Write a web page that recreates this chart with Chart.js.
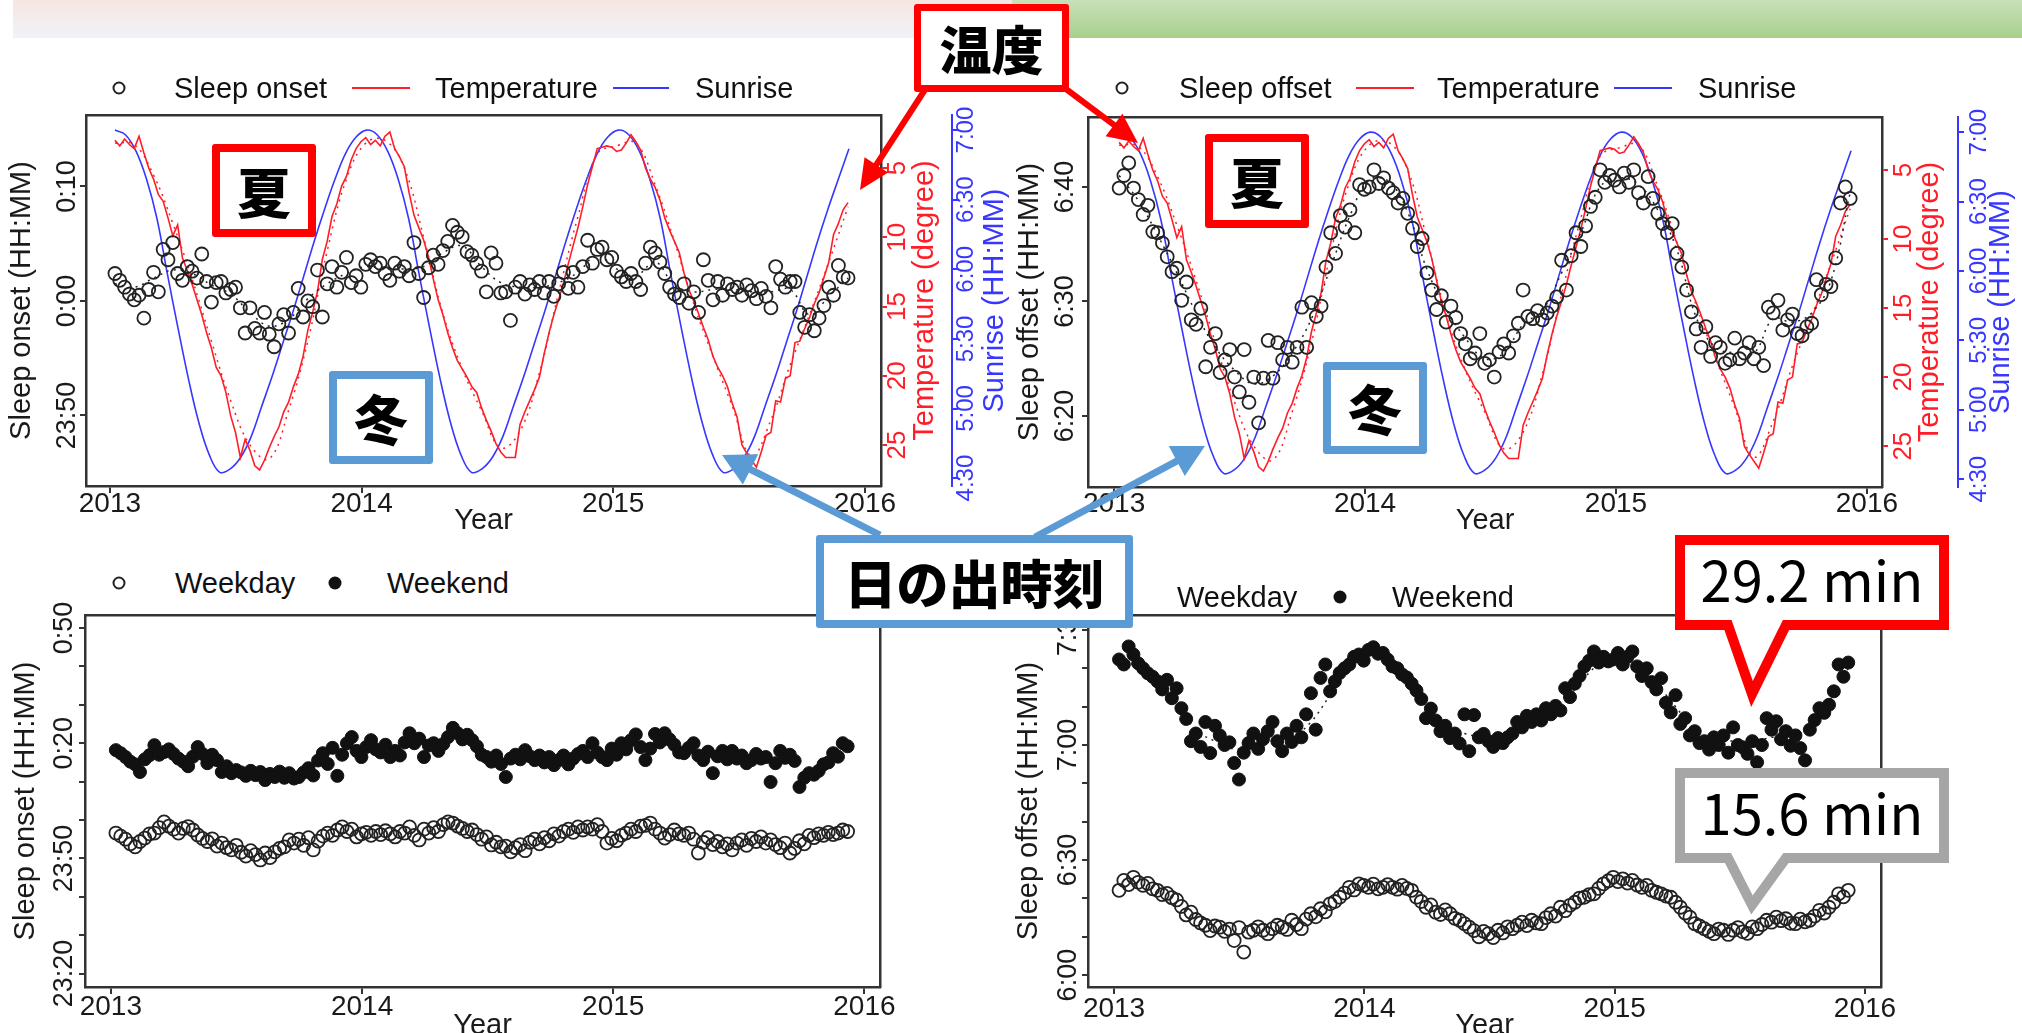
<!DOCTYPE html>
<html lang="ja">
<head>
<meta charset="UTF-8">
<title>Sleep onset / offset, temperature and sunrise</title>
<script src="https://cdn.jsdelivr.net/npm/chart.js"></script>
<style>
  body { margin: 0; width: 2022px; height: 1033px; overflow: hidden; background: #fff; position: relative;
         font-family: "Liberation Sans", Arial, sans-serif; }
  canvas { position: absolute; }
  .band { position: absolute; top: 0; height: 38px; }
  .lg { position: absolute; font-size: 29px; line-height: 1; color: #111; white-space: nowrap; transform: translateY(-50%); }
  .dot { position: absolute; width: 13px; height: 13px; box-sizing: border-box; border-radius: 50%; transform: translate(-50%, -50%); }
  .dot.open { border: 2px solid #222; }
  .dot.fill { background: #111; }
  .seg { position: absolute; height: 2px; transform: translateY(-50%); }
  .tag { position: absolute; box-sizing: border-box; background: #fff; border-radius: 3px;
         display: flex; align-items: center; justify-content: center;
         font-family: "Noto Sans CJK JP", sans-serif; font-weight: 900; color: #000; line-height: 1; }
  .tag.r { border: 8px solid #ff0000; }
  .tag.b { border: 8px solid #5b9bd5; }
  #ann { position: absolute; left: 0; top: 0; }
</style>
</head>
<body>

<div class="band" style="left:13px;width:999px;background:linear-gradient(#f6e6e2,#f1f2f8)"></div>
<div class="band" style="left:1012px;width:1010px;background:linear-gradient(#c8e1b9,#a8d08c)"></div>

<canvas id="cTL" width="1011" height="434" style="left:0;top:100px"></canvas>
<canvas id="cTR" width="1011" height="434" style="left:1011px;top:100px"></canvas>
<canvas id="cBL" width="1000" height="440" style="left:0;top:600px"></canvas>
<canvas id="cBR" width="1000" height="440" style="left:1011px;top:600px"></canvas>

<!-- legends -->
<span class="dot open" style="left:119px;top:88px"></span>
<div class="lg" style="left:174px;top:88px">Sleep onset</div>
<span class="seg" style="left:352px;top:88px;width:58px;background:rgb(255,30,40)"></span>
<div class="lg" style="left:435px;top:88px">Temperature</div>
<span class="seg" style="left:613px;top:88px;width:56px;background:rgb(55,55,255)"></span>
<div class="lg" style="left:695px;top:88px">Sunrise</div>

<span class="dot open" style="left:1122px;top:88px"></span>
<div class="lg" style="left:1179px;top:88px">Sleep offset</div>
<span class="seg" style="left:1356px;top:88px;width:58px;background:rgb(255,30,40)"></span>
<div class="lg" style="left:1437px;top:88px">Temperature</div>
<span class="seg" style="left:1614px;top:88px;width:58px;background:rgb(55,55,255)"></span>
<div class="lg" style="left:1698px;top:88px">Sunrise</div>

<span class="dot open" style="left:119px;top:583px"></span>
<div class="lg" style="left:175px;top:583px">Weekday</div>
<span class="dot fill" style="left:335px;top:583px"></span>
<div class="lg" style="left:387px;top:583px">Weekend</div>

<span class="dot open" style="left:1121px;top:597px"></span>
<div class="lg" style="left:1177px;top:597px">Weekday</div>
<span class="dot fill" style="left:1340px;top:597px"></span>
<div class="lg" style="left:1392px;top:597px">Weekend</div>

<svg id="ann" width="2022" height="1033">
  <path d="M1680,540 H1944 V625 H1786 L1752,694 L1728,625 H1680 Z" fill="#fff" stroke="#ff0000" stroke-width="10" stroke-linejoin="miter"/>
  <text x="1812" y="602" text-anchor="middle" font-family="Noto Sans CJK JP, sans-serif" font-size="56" fill="#000">29.2 min</text>
  <path d="M1680,773 H1944 V858 H1786 L1752,905 L1728,858 H1680 Z" fill="#fff" stroke="#a6a6a6" stroke-width="10" stroke-linejoin="miter"/>
  <text x="1812" y="835" text-anchor="middle" font-family="Noto Sans CJK JP, sans-serif" font-size="56" fill="#000">15.6 min</text>
</svg>

<div class="tag r" style="left:914px;top:4px;width:155px;height:88px;font-size:52px;border-width:7px">温度</div>
<div class="tag r" style="left:212px;top:144px;width:104px;height:93px;font-size:54px">夏</div>
<div class="tag r" style="left:1205px;top:134px;width:104px;height:94px;font-size:54px">夏</div>
<div class="tag b" style="left:329px;top:371px;width:104px;height:93px;font-size:54px">冬</div>
<div class="tag b" style="left:1323px;top:362px;width:104px;height:92px;font-size:54px">冬</div>
<div class="tag b" style="left:816px;top:535px;width:317px;height:93px;font-size:52px">日の出時刻</div>

<script>
// ---- data (weekly means, Jan 2013 - Dec 2015) ----
const yearTicks = [2013, 2014, 2015, 2016];
const firstWeek = 2013.02, weekStep = 7 / 365.25;

// sleep onset, minutes after midnight (top-left)
const onset = [2.4,1.8,1.2,0.6,0.1,0.5,-1.5,1.0,2.5,0.8,4.5,3.6,5.1,2.4,1.8,3.0,2.6,2.0,4.1,1.7,
  -0.1,1.6,1.7,0.7,1.0,1.2,-0.6,-2.8,-0.6,-2.4,-2.8,-1.0,-2.9,-4.0,-2.0,-1.2,-2.8,-1.0,1.1,-1.4,
  0.0,-0.5,2.7,-1.4,1.5,3.0,1.2,2.5,3.8,1.6,2.2,1.2,3.2,3.6,3.0,3.3,2.4,1.8,3.3,2.6,
  3.0,2.2,5.1,2.4,0.3,2.9,4.0,3.2,4.4,5.2,6.6,6.0,5.6,4.3,4.0,3.3,2.6,0.8,4.2,3.3,
  0.7,0.8,-1.7,1.2,1.7,0.6,1.4,1.0,1.7,0.7,1.7,0.4,1.5,2.5,1.1,2.5,1.2,3.0,5.3,3.3,
  4.5,4.7,3.6,3.8,2.6,2.1,1.7,2.4,1.7,1.0,3.3,4.7,4.2,3.4,2.4,1.2,0.6,0.3,1.5,-0.2,
  0.8,-1.0,3.6,1.8,0.1,1.7,0.5,1.5,1.0,1.2,0.5,1.4,0.9,0.2,1.1,0.4,-0.6,3.0,1.9,1.2,
  1.7,1.7,-1.0,-2.3,-1.2,-2.6,-1.5,-0.4,1.2,0.5,3.1,2.1,2.0];
// smoothed onset, every 4 weeks
const onsetFit = [1.5,1.2,2.0,2.7,2.4,1.4,0.6,-1.0,-2.2,-1.6,0.2,1.5,2.4,3.0,2.8,2.8,3.0,4.2,4.8,3.0,
  1.6,1.2,1.2,1.6,2.5,4.0,2.8,2.2,3.4,1.4,0.8,1.0,1.0,0.8,0.8,1.0,-1.2,0.4,2.0];

// sleep offset, minutes after midnight (top-right)
const offset = [399.9,401.0,402.1,399.9,398.9,397.6,398.4,396.1,396.0,395.1,393.9,392.6,392.9,390.1,391.7,388.4,388.0,389.4,384.3,386.0,
  387.2,383.8,384.9,385.8,383.4,382.1,385.8,381.2,383.4,379.4,383.3,386.6,383.3,386.4,384.9,386.0,384.7,386.0,389.5,386.0,
  389.9,388.7,389.6,393.0,396.0,394.2,397.5,396.5,398.0,396.0,400.2,399.8,400.0,401.5,400.3,400.8,399.9,399.5,398.6,399.0,
  397.7,396.4,394.8,395.5,392.5,391.0,389.3,390.5,388.2,389.6,388.6,387.2,386.3,385.0,385.5,387.2,384.6,384.9,383.4,385.6,
  386.3,385.5,387.0,388.1,391.0,388.7,388.5,389.2,388.4,389.0,389.6,390.4,393.6,391.0,394.0,396.0,394.8,396.6,398.3,399.1,
  401.5,400.4,401.0,400.6,400.0,401.2,400.4,401.5,399.5,398.6,400.9,399.0,397.7,396.8,396.0,396.8,394.2,393.0,391.0,389.1,
  387.6,386.0,387.8,385.2,386.4,386.0,384.6,384.9,386.8,385.0,385.5,386.4,385.0,386.0,384.4,389.5,389.0,390.1,387.5,388.4,
  388.9,387.2,387.0,387.8,388.1,391.9,390.6,391.5,391.3,393.8,398.6,400.0,399.0];
const offsetFit = [401.0,398.8,395.8,392.5,389.0,386.0,384.0,382.8,383.5,385.5,388.5,393.0,397.5,400.6,400.5,397.8,392.8,389.3,386.8,385.0,
  385.5,388.0,389.2,392.5,396.0,400.0,400.8,400.2,398.0,394.5,388.6,386.0,385.5,385.5,388.5,388.2,389.0,391.8,399.5];

// weekly mean temperature (degree C)
const temp = [3.0,3.4,2.9,3.3,3.6,2.7,3.9,5.0,5.8,6.9,7.4,8.6,9.9,9.1,11.5,12.4,13.4,14.5,15.6,16.9,
  18.0,19.4,20.0,21.2,22.9,24.1,25.9,24.6,25.4,26.5,26.8,26.1,25.2,24.4,23.7,22.6,21.9,20.8,19.9,18.6,
  16.7,15.4,13.9,11.6,10.3,8.5,7.6,6.3,5.6,4.4,3.6,3.1,2.8,3.3,3.0,3.4,2.7,2.4,3.6,4.2,
  4.9,6.8,8.4,9.3,10.2,11.4,13.0,14.5,15.6,16.9,18.0,18.9,19.5,20.1,20.8,21.2,22.3,23.2,24.0,24.9,
  25.5,25.9,25.9,25.9,23.5,22.6,21.8,21.0,20.1,18.4,16.9,15.6,14.5,13.3,11.9,10.6,9.3,7.8,6.2,4.9,
  3.6,3.5,3.4,3.5,3.8,3.7,3.2,2.6,3.1,3.7,5.0,5.8,6.4,7.3,8.6,9.5,10.3,11.1,12.6,13.8,
  14.6,15.5,16.5,17.4,18.6,19.4,20.0,20.8,22.0,23.0,25.0,25.6,26.1,26.6,25.5,24.3,24.1,21.8,21.9,20.2,
  20.0,17.6,17.5,16.6,15.8,14.8,14.0,12.9,11.8,9.8,9.0,8.0,7.5];
const tempFit = [3.2,3.3,5.5,9.0,13.0,17.5,21.8,25.0,26.0,22.5,17.5,11.0,5.8,3.2,3.0,5.0,10.0,15.5,19.5,22.5,
  25.2,24.0,19.8,14.0,8.5,4.0,3.4,3.2,6.2,10.3,14.8,18.6,22.2,25.8,23.2,19.2,15.6,11.8,7.8];

// sunrise, minutes after midnight, twice a month
const sunrise = [420,418,411,399,382,358,335,313,294,280,272.5,274,279,288,301,314,328,342,357,372,386,399,410,417,
  420,418,411,399,382,358,335,313,294,280,272.5,274,279,288,301,314,328,342,357,372,386,399,410,417,
  420,418,411,399,382,358,335,313,294,280,272.5,274,279,288,301,314,328,342,357,372,386,399,412];

// bottom-left: sleep onset, weekday / weekend
const weekdayOnset = [-3.4,-4.2,-5.0,-6.2,-7.0,-5.6,-4.7,-3.6,-3.4,-2.0,-0.5,-1.6,-2.4,-3.4,-2.2,-1.7,-2.6,-3.9,-4.8,-5.6,
  -4.9,-6.8,-6.0,-7.2,-7.8,-6.6,-8.4,-9.4,-8.0,-9.0,-10.4,-8.6,-9.8,-8.3,-7.4,-7.0,-5.2,-6.0,-5.0,-6.6,
  -4.6,-7.8,-5.5,-4.2,-3.4,-4.0,-2.6,-1.8,-3.0,-2.4,-4.4,-3.6,-3.2,-4.0,-3.0,-3.8,-2.8,-3.6,-4.4,-3.0,
  -3.4,-1.8,-4.0,-5.2,-2.4,-3.4,-2.0,-3.0,-1.2,-0.5,-0.8,-1.6,-2.2,-3.0,-2.6,-3.8,-5.0,-4.4,-6.5,-5.8,
  -7.0,-6.8,-8.3,-7.2,-6.4,-8.0,-5.8,-5.0,-6.2,-4.6,-5.4,-3.6,-4.2,-3.0,-2.4,-3.2,-1.8,-2.6,-1.8,-2.4,
  -1.2,-3.0,-6.0,-4.8,-5.4,-4.0,-3.4,-2.4,-3.0,-1.6,-1.4,-0.8,-2.4,-3.4,-4.7,-3.8,-2.6,-3.6,-4.0,-3.4,
  -5.0,-8.6,-5.8,-4.6,-6.4,-5.6,-7.0,-6.2,-7.8,-6.0,-5.2,-6.6,-4.8,-5.6,-4.4,-6.0,-5.2,-6.4,-7.2,-6.0,
  -8.6,-7.4,-5.4,-6.2,-4.0,-4.6,-3.6,-4.0,-3.2,-3.8,-3.4,-2.6,-3.0];
const weekendOnset = [18.2,17.4,16.4,15.2,14.5,12.5,15.8,16.9,19.5,17.0,17.7,18.4,17.2,16.0,15.2,14.0,16.5,19.0,17.2,14.8,
  17.0,15.6,12.5,14.0,12.2,13.0,12.4,11.5,12.8,11.7,12.5,10.4,12.0,11.2,12.6,11.0,12.2,10.8,11.2,12.4,
  13.5,11.6,15.5,17.4,14.6,18.8,11.5,17.0,20.0,21.6,18.0,16.4,19.0,20.8,18.4,17.6,19.6,16.4,18.0,16.8,
  20.2,22.6,20.0,21.2,16.4,19.4,20.0,18.0,19.8,21.6,24.0,22.6,21.0,22.2,20.8,19.2,17.0,16.4,15.2,16.8,
  14.6,11.2,16.0,17.0,15.8,18.2,16.6,15.6,16.8,15.0,16.4,14.3,15.6,16.8,14.5,16.0,17.2,18.0,16.4,20.0,
  17.6,16.4,15.6,18.6,17.0,20.0,18.4,20.8,22.3,19.0,15.6,18.6,22.4,20.2,22.6,21.0,19.6,17.6,17.4,18.8,
  20.0,16.8,15.6,17.8,12.2,16.6,18.0,15.8,18.0,16.0,16.8,14.8,15.6,17.2,16.0,16.4,9.9,14.8,18.0,16.2,
  17.0,15.4,8.6,11.0,12.2,11.8,12.8,14.5,15.0,17.4,16.5,20.0,19.2];

// bottom-right: sleep offset, weekday / weekend
const weekdayOffset = [382.1,384.7,383.6,385.5,384.2,383.4,383.9,382.5,382.1,381.0,381.3,380.2,379.6,377.9,375.7,376.4,374.5,373.6,373.0,371.6,
  372.8,372.5,371.4,372.0,369.0,372.4,366.0,371.2,371.7,372.6,371.7,370.8,372.1,373.0,372.5,371.9,374.3,373.2,372.1,374.6,
  376.0,375.2,377.3,376.5,378.6,379.2,380.3,381.4,382.9,382.2,383.8,383.4,382.9,383.7,382.5,382.9,383.6,382.9,382.4,383.4,
  382.6,382.1,380.3,379.2,377.7,378.3,376.4,375.8,377.0,376.0,374.8,374.3,373.4,372.5,371.6,370.0,371.4,370.8,369.8,371.7,
  371.0,372.6,372.1,373.0,373.8,372.9,374.3,373.6,373.4,375.0,376.0,375.4,377.7,376.8,378.2,379.0,380.1,380.3,381.0,381.2,
  382.6,383.8,384.6,385.5,384.4,385.1,384.0,384.7,383.5,382.9,383.4,382.1,381.6,381.2,380.6,380.3,379.0,377.7,376.2,375.1,
  373.4,372.8,372.1,371.4,370.8,372.0,371.7,370.6,371.7,372.4,371.3,370.9,372.6,372.1,373.2,374.3,373.8,375.1,374.2,374.7,
  373.5,373.4,374.6,373.9,374.3,375.4,376.9,376.2,377.7,379.0,381.2,380.4,382.1];
const weekendOffset = [442.3,441.0,445.7,443.6,441.3,440.0,438.7,437.8,436.6,434.5,437.0,432.2,434.8,429.6,426.8,421.0,423.0,419.5,426.0,417.9,
  425.0,422.5,420.0,420.7,415.3,411.0,418.0,420.5,423.0,419.0,421.5,423.6,426.0,421.0,418.4,423.0,420.8,425.0,422.0,428.0,
  433.5,424.0,437.5,441.0,434.0,436.6,438.8,440.0,441.0,443.0,443.6,442.0,444.8,445.5,443.8,444.0,442.3,440.5,440.0,438.4,
  437.6,436.0,434.2,432.0,427.0,429.5,426.4,423.6,425.0,421.8,423.0,420.4,428.0,418.4,427.8,422.0,422.9,421.0,419.5,421.8,
  420.5,422.0,423.0,426.0,424.6,427.6,426.0,428.0,426.4,429.6,428.0,430.2,429.0,434.8,432.5,436.0,438.0,440.5,442.0,444.4,
  441.5,443.0,441.8,442.3,444.0,441.0,443.0,444.4,440.5,438.0,440.0,436.4,434.5,437.4,431.0,428.5,433.0,425.5,427.0,422.5,
  423.6,420.5,421.0,418.8,422.0,420.0,422.5,418.0,424.6,420.0,419.4,417.7,421.0,415.5,420.0,427.0,424.0,426.2,421.5,423.6,
  419.8,422.5,419.2,416.0,424.0,426.5,429.6,428.4,430.5,434.0,441.0,437.8,441.5];
const weekendOffsetFit = [443,440,436,431,424,421,419,420,421,422,426,433,440,443.5,443,438,431,425,423,422,
  421.5,424,427,430,436,441,442.5,441,436,430,424,421.5,421,420.5,422,421.5,424,431,440];

// axis tick values
const onsetTicks = [-10, 0, 10];
const offsetTicks = [380, 390, 400];
const tempTicks = [5, 10, 15, 20, 25];
const sunriseTicks = [270, 300, 330, 360, 390, 420];
const onsetTicksB = [-40, -30, -20, -10, 0, 10, 20, 30, 40, 50];
const offsetTicksB = [360, 370, 380, 390, 400, 410, 420, 430, 440, 450];

// x positions: one per week / per fit step / per half month
const weekX = onset.map((_, i) => firstWeek + i * weekStep);
const fitX = onsetFit.map((_, j) => firstWeek + 4 * j * weekStep);
const sunX = sunrise.map((_, k) => firstWeek + k / 24);

const red = 'rgb(255,30,40)', blue = 'rgb(55,55,255)', ink = '#1a1a1a';
Chart.defaults.font.family = '"Liberation Sans", Arial, sans-serif';
Chart.defaults.color = ink;

function hm(v) {
  const m = ((Math.round(v) % 1440) + 1440) % 1440;
  return Math.floor(m / 60) + ':' + String(m % 60).padStart(2, '0');
}
function pts(xs, ys) { return ys.map((y, i) => ({ x: xs[i], y: y })); }

// titles of the right-hand axes read bottom-to-top, like the left one
const sideTitles = {
  id: 'sideTitles',
  afterDraw(chart, args, opts) {
    const ctx = chart.ctx;
    const yc = (chart.chartArea.top + chart.chartArea.bottom) / 2;
    (opts.items || []).forEach(it => {
      const sc = chart.scales[it.axis];
      ctx.save();
      ctx.translate(sc.left + it.dx, yc);
      ctx.rotate(-Math.PI / 2);
      ctx.font = '29px "Liberation Sans", Arial, sans-serif';
      ctx.fillStyle = it.color;
      ctx.textAlign = 'center';
      ctx.textBaseline = 'middle';
      ctx.fillText(it.text, 0, 0);
      ctx.restore();
    });
  }
};

function openPts(data) {
  return { data: data, xAxisID: 'x', yAxisID: 'y', showLine: false, pointRadius: 6.5, pointBorderWidth: 1.8,
           pointBorderColor: '#222', pointBackgroundColor: 'rgba(0,0,0,0)', order: 0 };
}
function fillPts(data) {
  return { data: data, xAxisID: 'x', yAxisID: 'y', showLine: false, pointRadius: 6.5, pointBorderWidth: 1,
           pointBorderColor: '#111', pointBackgroundColor: '#111', order: 0 };
}
function dotted(data, axis, color) {
  return { data: data, xAxisID: 'x', yAxisID: axis, borderColor: color, borderWidth: 1.5, borderDash: [2, 5],
           pointRadius: 0, tension: 0.4, order: 1 };
}
function plain(data, axis, color, tension) {
  return { data: data, xAxisID: 'x', yAxisID: axis, borderColor: color, borderWidth: 1.6,
           pointRadius: 0, tension: tension, order: 2 };
}

function sleepChart(id, o) {
  const tickFont = { size: 27 };
  const scales = {
    x: { type: 'linear', position: 'bottom', min: o.xMin, max: o.xMax, bounds: 'data',
         afterBuildTicks: s => { s.ticks = yearTicks.map(v => ({ value: v })); },
         afterFit: s => { s.height = o.bottomH; },
         ticks: { font: { size: 28 }, color: ink, padding: o.xPad, maxRotation: 0, autoSkip: false, callback: v => String(v) },
         grid: { drawOnChartArea: false, tickLength: 7, color: '#333', lineWidth: 2 },
         border: { color: '#333', width: 2.5 },
         title: { display: true, text: 'Year', font: { size: 29 }, color: ink, padding: { top: 0, bottom: o.xTitlePad } } },
    xTop: { type: 'linear', position: 'top', min: o.xMin, max: o.xMax, bounds: 'data',
         afterFit: s => { s.height = o.topH; },
         ticks: { display: false }, grid: { drawOnChartArea: false, drawTicks: false },
         border: { color: '#333', width: 2.5 } },
    y: { type: 'linear', position: 'left', min: o.yMin, max: o.yMax, bounds: 'data',
         afterBuildTicks: s => { s.ticks = o.yTicks.map(v => ({ value: v })); },
         afterFit: s => { s.width = o.leftW; },
         ticks: { font: tickFont, color: ink, minRotation: 90, maxRotation: 90, crossAlign: 'center',
                  padding: o.yPad, autoSkip: false, callback: o.yLabel },
         grid: { drawOnChartArea: false, tickLength: 6, color: '#333', lineWidth: 2 },
         border: { color: '#333', width: 2.5 },
         title: { display: true, text: o.yTitle, font: { size: 29 }, color: ink, padding: { top: o.yTitlePad, bottom: 0 } } }
  };
  if (o.weather) {
    const w = o.weather;
    scales.yT = { type: 'linear', position: 'right', reverse: true, min: 1.17, max: 27.96, bounds: 'data',
         afterBuildTicks: s => { s.ticks = tempTicks.map(v => ({ value: v })); },
         afterFit: s => { s.width = w.tW; },
         ticks: { font: { size: 26 }, color: red, minRotation: 90, maxRotation: 90, crossAlign: 'center',
                  padding: w.tPad, autoSkip: false },
         grid: { drawOnChartArea: false, tickLength: 6, color: red, lineWidth: 2 },
         border: { color: '#333', width: 2.5 } };
    scales.yS = { type: 'linear', position: 'right', min: 266.6, max: 426.5, bounds: 'data',
         afterBuildTicks: s => { s.ticks = sunriseTicks.map(v => ({ value: v })); },
         afterFit: s => { s.width = w.sW; },
         ticks: { font: { size: 24 }, color: blue, minRotation: 90, maxRotation: 90, crossAlign: 'center',
                  padding: w.sPad, autoSkip: false, callback: hm },
         grid: { drawOnChartArea: false, tickLength: 6, color: blue, lineWidth: 2 },
         border: { color: blue, width: 2 } };
  } else {
    scales.yR = { type: 'linear', position: 'right', min: o.yMin, max: o.yMax, bounds: 'data',
         afterFit: s => { s.width = o.rightW; },
         ticks: { display: false }, grid: { drawOnChartArea: false, drawTicks: false },
         border: { color: '#333', width: 2.5 } };
  }
  return new Chart(document.getElementById(id), {
    type: 'line',
    data: { datasets: o.datasets },
    options: {
      responsive: false, animation: false, events: [], devicePixelRatio: 1,
      layout: { padding: 0 },
      plugins: { legend: { display: false }, tooltip: { enabled: false }, sideTitles: { items: o.sideTitles || [] } },
      scales: scales
    },
    plugins: [sideTitles]
  });
}

sleepChart('cTL', {
  xMin: 2012.905, xMax: 2016.064, topH: 15, bottomH: 48, xPad: -6, xTitlePad: -4,
  leftW: 86, yMin: -16.16, yMax: 16.24, yTicks: onsetTicks, yLabel: hm, yPad: -21.8,
  yTitle: 'Sleep onset (HH:MM)', yTitlePad: 4.6,
  weather: { tW: 71, sW: 59, tPad: -3.5, sPad: -15.4 },
  sideTitles: [{ axis: 'yT', dx: 44, text: 'Temperature (degree)', color: red },
               { axis: 'yS', dx: 43, text: 'Sunrise (HH:MM)', color: blue }],
  datasets: [openPts(pts(weekX, onset)), dotted(pts(fitX, onsetFit), 'y', '#222'),
             plain(pts(weekX, temp), 'yT', red, 0), dotted(pts(fitX, tempFit), 'yT', red),
             plain(pts(sunX, sunrise), 'yS', blue, 0.4)]
});

sleepChart('cTR', {
  xMin: 2012.896, xMax: 2016.06, topH: 17, bottomH: 47, xPad: -7, xTitlePad: -4,
  leftW: 77, yMin: 373.8, yMax: 406.1, yTicks: offsetTicks, yLabel: hm, yPad: -10.3,
  yTitle: 'Sleep offset (HH:MM)', yTitlePad: 1.6,
  weather: { tW: 76, sW: 64, tPad: 1.5, sPad: -8.4 },
  sideTitles: [{ axis: 'yT', dx: 48, text: 'Temperature (degree)', color: red },
               { axis: 'yS', dx: 43, text: 'Sunrise (HH:MM)', color: blue }],
  datasets: [openPts(pts(weekX, offset)), dotted(pts(fitX, offsetFit), 'y', '#222'),
             plain(pts(weekX, temp), 'yT', red, 0), dotted(pts(fitX, tempFit), 'yT', red),
             plain(pts(sunX, sunrise), 'yS', blue, 0.4)]
});

sleepChart('cBL', {
  xMin: 2012.897, xMax: 2016.062, topH: 15, bottomH: 53, xPad: -4, xTitlePad: -3,
  leftW: 85, rightW: 120, yMin: -43.5, yMax: 53.4, yTicks: onsetTicksB,
  yLabel: v => ((v + 40) % 30 === 0 ? hm(v) : ''), yPad: -19.3,
  yTitle: 'Sleep onset (HH:MM)', yTitlePad: 8.6,
  datasets: [openPts(pts(weekX, weekdayOnset)), fillPts(pts(weekX, weekendOnset))]
});

sleepChart('cBR', {
  xMin: 2012.896, xMax: 2016.064, topH: 15, bottomH: 53, xPad: -2, xTitlePad: -3,
  leftW: 77, rightW: 130, yMin: 356.9, yMax: 453.9, yTicks: offsetTicksB,
  yLabel: v => (v % 30 === 0 ? hm(v) : ''), yPad: -13.3,
  yTitle: 'Sleep offset (HH:MM)', yTitlePad: 0.6,
  datasets: [openPts(pts(weekX, weekdayOffset)), fillPts(pts(weekX, weekendOffset)),
             dotted(pts(fitX, weekendOffsetFit), 'y', '#222')]
});

// ---- annotation arrows ----
const svg = document.getElementById('ann');
function arrow(x1, y1, x2, y2, color, w, hl, hw) {
  const ns = 'http://www.w3.org/2000/svg';
  const len = Math.hypot(x2 - x1, y2 - y1), ux = (x2 - x1) / len, uy = (y2 - y1) / len;
  const bx = x2 - ux * hl, by = y2 - uy * hl;
  const line = document.createElementNS(ns, 'line');
  line.setAttribute('x1', x1); line.setAttribute('y1', y1);
  line.setAttribute('x2', bx + ux * 2); line.setAttribute('y2', by + uy * 2);
  line.setAttribute('stroke', color); line.setAttribute('stroke-width', w);
  svg.appendChild(line);
  const head = document.createElementNS(ns, 'polygon');
  head.setAttribute('points', x2 + ',' + y2 + ' ' + (bx - uy * hw) + ',' + (by + ux * hw) + ' ' + (bx + uy * hw) + ',' + (by - ux * hw));
  head.setAttribute('fill', color);
  svg.appendChild(head);
}
arrow(928, 85, 860, 190, '#ff0000', 6, 30, 14);
arrow(1058, 83, 1138, 143, '#ff0000', 6, 30, 14);
arrow(880, 535, 722, 455, '#5b9bd5', 7, 32, 17);
arrow(1035, 537, 1205, 446, '#5b9bd5', 7, 32, 17);
</script>
</body>
</html>
